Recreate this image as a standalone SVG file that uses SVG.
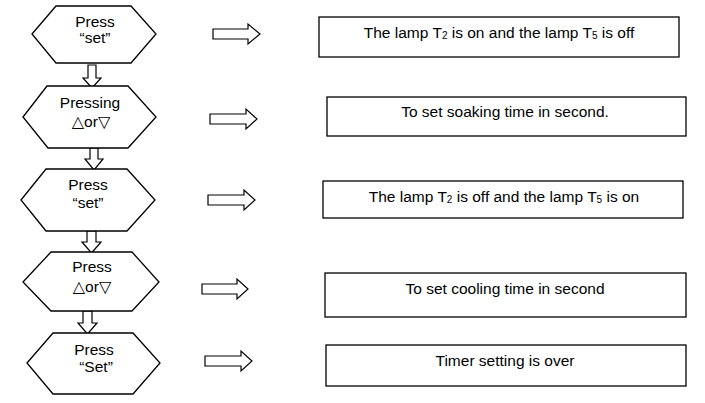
<svg xmlns="http://www.w3.org/2000/svg" width="705" height="403" viewBox="0 0 705 403">
<style>
.shape{fill:#fff;stroke:#000;stroke-width:1.3}
.arr{fill:#fff;stroke:#000;stroke-width:1.2}
text{font-family:"Liberation Sans",Arial,"DejaVu Sans",sans-serif;font-size:15.5px;fill:#000;text-anchor:middle}
.sub{font-size:10px}
.sym{font-family:"DejaVu Sans",sans-serif;font-size:16px}
</style>
<rect width="705" height="403" fill="#fff"/>
<g id="connectors">
<path class="arr" d="M88,65 V78 H83 L92,88 L101,78 H96 V65 Z"/>
<path class="arr" d="M90,148 V159 H85 L94,170 L103,159 H98 V148 Z"/>
<path class="arr" d="M87,231 V242 H82 L91.5,253 L101,242 H96 V231 Z"/>
<path class="arr" d="M83,311 V323 H78 L87.5,334 L97,323 H92 V311 Z"/>
<path class="arr" d="M213,29 H248 V24 L260,34 L248,44 V39 H213 Z"/>
<path class="arr" d="M210,114 H246 V109 L257,119 L246,129 V124 H210 Z"/>
<path class="arr" d="M208,195 H244 V190 L255,200 L244,210 V205 H208 Z"/>
<path class="arr" d="M202,284 H237 V279 L248,289 L237,299 V294 H202 Z"/>
<path class="arr" d="M205,356 H241 V351 L252,361 L241,371 V366 H205 Z"/>
</g>
<g id="hex1">
<polygon class="shape" points="32,34 56,6 131,6 156,34 131,63 56,63"/>
<text x="95" y="27">Press</text>
<text x="95" y="43">“set”</text>
</g>
<g id="hex2">
<polygon class="shape" points="23,117 47,86 128,86 156,117 128,148 48,148"/>
<text x="90" y="108">Pressing</text>
<text x="91" y="127"><tspan class="sym">△</tspan>or<tspan class="sym">▽</tspan></text>
</g>
<g id="hex3">
<polygon class="shape" points="21,200 46,169 127,169 155,200 127,231 46,231"/>
<text x="88" y="190">Press</text>
<text x="88" y="208">“set”</text>
</g>
<g id="hex4">
<polygon class="shape" points="23,282 51,252 132,252 159,282 132,311 51,311"/>
<text x="92" y="272">Press</text>
<text x="92" y="292"><tspan class="sym">△</tspan>or<tspan class="sym">▽</tspan></text>
</g>
<g id="hex5">
<polygon class="shape" points="27,363 53,333 133,333 160,363 133,394 53,394"/>
<text x="94" y="355">Press</text>
<text x="96" y="372">“Set”</text>
</g>
<g id="box1">
<rect class="shape" x="319" y="17" width="360" height="40"/>
<text x="499" y="38">The lamp T<tspan class="sub" dy="1">2</tspan><tspan dy="-1"> is on and the lamp T</tspan><tspan class="sub" dy="1">5</tspan><tspan dy="-1"> is off</tspan></text>
</g>
<g id="box2">
<rect class="shape" x="327" y="97" width="359" height="39"/>
<text x="505" y="117">To set soaking time in second.</text>
</g>
<g id="box3">
<rect class="shape" x="323" y="181" width="360" height="37"/>
<text x="504" y="202">The lamp T<tspan class="sub" dy="1">2</tspan><tspan dy="-1"> is off and the lamp T</tspan><tspan class="sub" dy="1">5</tspan><tspan dy="-1"> is on</tspan></text>
</g>
<g id="box4">
<rect class="shape" x="325" y="273" width="361" height="44"/>
<text x="505" y="294">To set cooling time in second</text>
</g>
<g id="box5">
<rect class="shape" x="326" y="345" width="360" height="41"/>
<text x="505" y="366">Timer setting is over</text>
</g>
</svg>
